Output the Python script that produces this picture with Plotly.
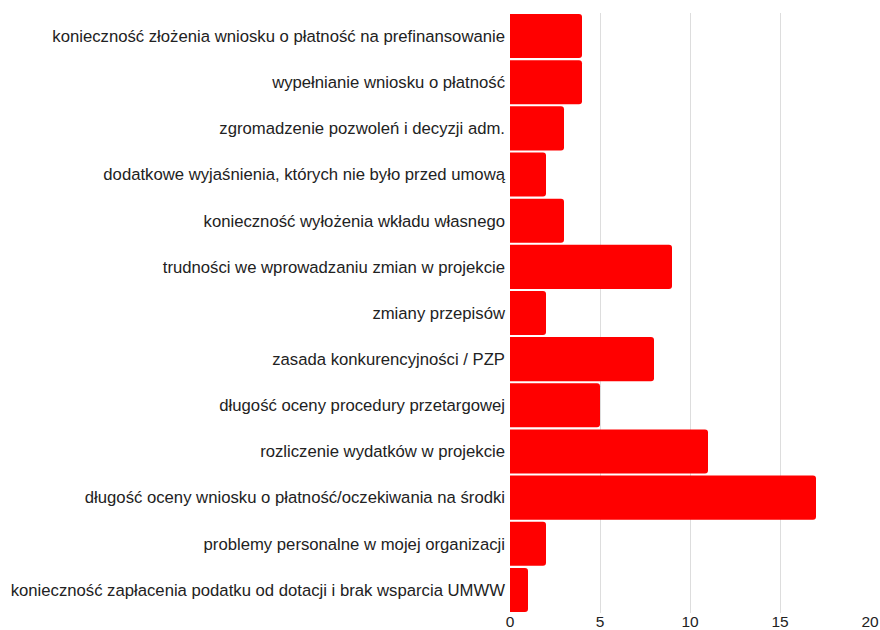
import plotly.graph_objects as go

categories = [
    "konieczność złożenia wniosku o płatność na prefinansowanie",
    "wypełnianie wniosku o płatność",
    "zgromadzenie pozwoleń i decyzji adm.",
    "dodatkowe wyjaśnienia, których nie było przed umową",
    "konieczność wyłożenia wkładu własnego",
    "trudności we wprowadzaniu zmian w projekcie",
    "zmiany przepisów",
    "zasada konkurencyjności / PZP",
    "długość oceny procedury przetargowej",
    "rozliczenie wydatków w projekcie",
    "długość oceny wniosku o płatność/oczekiwania na środki",
    "problemy personalne w mojej organizacji",
    "konieczność zapłacenia podatku od dotacji i brak wsparcia UMWW",
]
counts = [4, 4, 3, 2, 3, 9, 2, 8, 5, 11, 17, 2, 1]
x_ticks = [0, 5, 10, 15, 20]

fig = go.Figure(
    go.Bar(
        x=counts,
        y=categories,
        orientation="h",
        marker=dict(color="#ff0000", line=dict(width=0), cornerradius=3),
        hoverinfo="x+y",
    )
)

fig.update_layout(
    width=880,
    height=630,
    margin=dict(l=510, r=10, t=13, b=17),
    paper_bgcolor="white",
    plot_bgcolor="white",
    bargap=0.045,
    showlegend=False,
    font=dict(family="Liberation Sans, Arial, sans-serif", size=16, color="#222222"),
)

fig.update_xaxes(
    range=[0, 20],
    tickvals=x_ticks,
    showgrid=True,
    gridcolor="#dddddd",
    gridwidth=1,
    zeroline=False,
    showline=False,
    ticks="",
    ticklabelstandoff=-3,
    automargin=False,
    tickfont=dict(size=15.5, color="#222222"),
)

fig.update_yaxes(
    categoryorder="array",
    categoryarray=categories[::-1],
    range=[-0.5, len(categories) - 0.5],
    showgrid=False,
    zeroline=False,
    showline=False,
    ticks="",
    ticklabelstandoff=4,
    automargin=False,
    tickfont=dict(size=16.7, color="#222222"),
)

fig.write_html("out.html")
